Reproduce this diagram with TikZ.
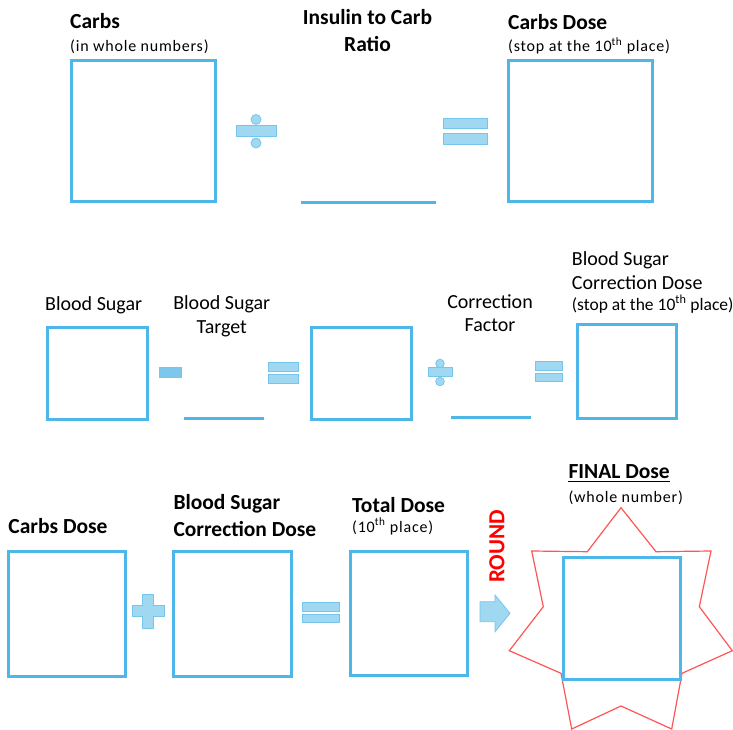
\documentclass[tikz,border=0pt]{standalone}
\usepackage{fontspec}
\setmainfont{Carlito}
\definecolor{boxblue}{RGB}{76,183,232}
\definecolor{opfill}{RGB}{160,216,242}
\definecolor{opdraw}{RGB}{118,198,236}
\definecolor{minusfill}{RGB}{125,198,236}
\definecolor{starred}{RGB}{255,85,85}
\tikzset{
  box/.style={draw=boxblue, line width=3pt, inner sep=0pt},
  blank/.style={draw=boxblue, line width=3pt},
  op/.style={fill=opfill, draw=opdraw, line width=0.8pt},
  bl/.style={inner sep=0pt, anchor=base west, font=\fontsize{21.5}{26}\selectfont\bfseries},
  blc/.style={bl, anchor=base},
  rg/.style={inner sep=0pt, anchor=base west, font=\fontsize{20}{24}\selectfont},
  rgc/.style={rg, anchor=base},
  sm/.style={inner sep=0pt, anchor=base west, font=\fontsize{16}{19}\selectfont\addfontfeature{LetterSpace=5}},
  smr/.style={inner sep=0pt, anchor=base west, font=\fontsize{17.5}{21}\selectfont},
}
\begin{document}
\begin{tikzpicture}[x=1pt,y=-1pt]
\useasboundingbox[fill=white] (0,0) rectangle (733,730);

% ---------- top row ----------
\node[bl] (t1) at (70,29) {Carbs};
\node[sm] (t1s) at (70,52) {(in whole numbers)};
\node[box, minimum width=144pt, minimum height=141pt] (b1) at (143.3,131) {};

\fill[op] (236,125) rectangle (276,136.7);
\fill[op] (256,119.5) circle[radius=5pt];
\fill[op] (256,143) circle[radius=5pt];

\node[blc] (t2a) at (367.5,25) {Insulin to Carb};
\node[blc] (t2b) at (367.5,52) {Ratio};
\draw[blank] (301,202.5) -- (436,202.5);

\fill[op] (443.3,118.3) rectangle (487.7,128.3);
\fill[op] (443.3,133.3) rectangle (487.7,144);

\node[bl] (t3) at (508,30) {Carbs Dose};
\node[sm] (t3s) at (508,52) {(stop at the 10\textsuperscript{th} place)};
\node[box, minimum width=144pt, minimum height=141pt] (b3) at (580.8,131) {};

% ---------- middle row ----------
\node[rg] (m1) at (45,310) {Blood Sugar};
\node[box, minimum width=100pt, minimum height=92pt] (mb1) at (97.7,373) {};

\fill[op, fill=minusfill] (159.3,367.7) rectangle (181,377.3);

\node[rgc] (m2a) at (221.7,309.5) {Blood Sugar};
\node[rgc] (m2b) at (221.7,333) {Target};
\draw[blank] (184.3,418.3) -- (264.3,418.3);

\fill[op] (268.3,362.3) rectangle (298.3,371);
\fill[op] (268.3,374) rectangle (298.3,383.3);

\node[box, minimum width=100pt, minimum height=92pt] (mb2) at (361.7,373) {};

\fill[op] (428.3,367.7) rectangle (452.7,376.7);
\fill[op] (440,363.5) circle[radius=4.3pt];
\fill[op] (440,381.5) circle[radius=4.3pt];

\node[rgc] (m3a) at (490,308) {Correction};
\node[rgc] (m3b) at (490,331) {Factor};
\draw[blank] (451,417.7) -- (531,417.7);

\fill[op] (535,361.7) rectangle (562.3,370);
\fill[op] (535,373.3) rectangle (562.3,381.7);

\node[rg] (m4a) at (571.7,265.5) {Blood Sugar};
\node[rg] (m4b) at (571.7,289) {Correction Dose};
\node[smr] (m4c) at (571.7,310) {(stop at the 10\textsuperscript{th} place)};
\node[box, minimum width=99pt, minimum height=94pt] (mb3) at (626.7,371.7) {};

% ---------- bottom row ----------
\node[bl] (u1) at (8.3,533) {Carbs Dose};
\node[box, minimum width=117pt, minimum height=125pt] (ub1) at (67.3,614.2) {};

\fill[op] (142.7,594) -- (153.3,594) -- (153.3,605) -- (164,605) -- (164,616.7)
  -- (153.3,616.7) -- (153.3,628.3) -- (142.7,628.3) -- (142.7,616.7)
  -- (132.3,616.7) -- (132.3,605) -- (142.7,605) -- cycle;

\node[bl] (u2a) at (173.3,509) {Blood Sugar};
\node[bl] (u2b) at (173.3,536) {Correction Dose};
\node[box, minimum width=118pt, minimum height=125pt] (ub2) at (232.8,614.2) {};

\fill[op] (302.7,602) rectangle (339,611);
\fill[op] (302.7,614) rectangle (339,622.7);

\node[bl] (u3) at (352,512) {Total Dose};
\node[sm] (u3s) at (352,532) {(10\textsuperscript{th} place)};
\node[box, minimum width=117pt, minimum height=124pt] (ub3) at (409.2,613.8) {};

\node[inner sep=0pt, rotate=90, text=red, font=\fontsize{23}{26}\selectfont\bfseries] (rnd) at (497,546.5) {ROUND};
\fill[op] (480,601.7) -- (495,601.7) -- (495,595) -- (510,613.3) -- (495,631.7)
  -- (495,621.7) -- (480,621.7) -- cycle;

\draw[starred, line width=1.2pt, line join=miter] (621,507.7) -- (656,551.7) -- (711,551) -- (699.3,606.7)
  -- (732.3,650.7) -- (682,673.3) -- (671.7,729) -- (621,706) -- (571.7,729)
  -- (561,673.3) -- (509.3,650.7) -- (543.3,606.7) -- (531.7,551) -- (587.3,551.7) -- cycle;

\node[bl] (fd) at (568.3,478.3) {FINAL Dose};
\draw[line width=1.2pt] ([yshift=-3.4pt]fd.base west) -- ([yshift=-3.4pt]fd.base east);
\node[sm] (fds) at (568.3,502) {(whole number)};
\node[box, minimum width=117pt, minimum height=122pt] (ub4) at (621.8,618.3) {};
\end{tikzpicture}
\end{document}
